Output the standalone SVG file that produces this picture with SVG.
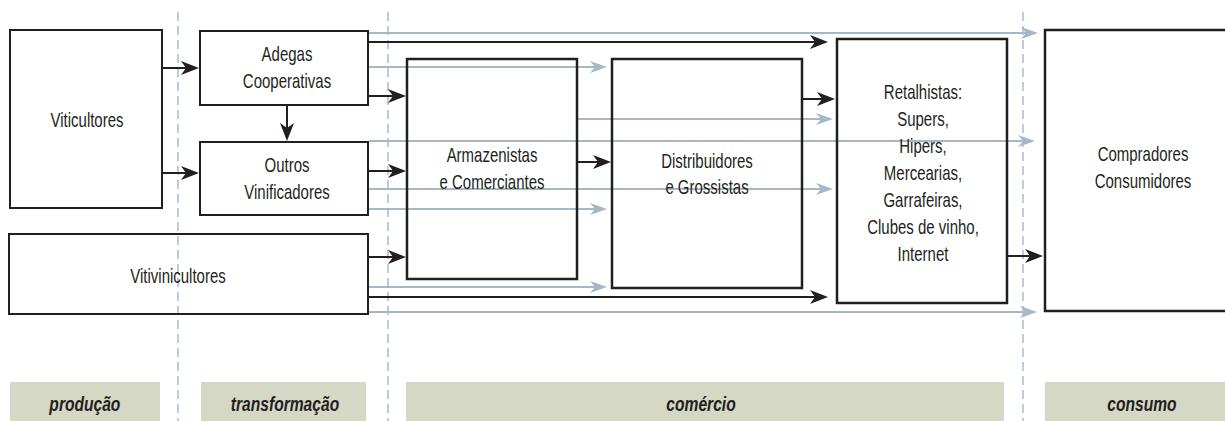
<svg xmlns="http://www.w3.org/2000/svg" width="1225" height="421" viewBox="0 0 1225 421">
<style>
.box{fill:none;stroke:#231f20;stroke-width:2}
.box2{fill:none;stroke:#231f20;stroke-width:2.5}
.t{font-family:'Liberation Sans',Arial,sans-serif;font-size:20px;fill:#231f20;text-anchor:middle;transform-box:fill-box;transform-origin:center;transform:scaleX(0.75)}
.band{fill:#d6d8c6}
.bt{font-family:'Liberation Sans',Arial,sans-serif;font-size:20px;font-weight:bold;font-style:italic;fill:#231f20;text-anchor:middle;transform-box:fill-box;transform-origin:center;transform:scaleX(0.78)}
.dash{stroke:#a3b7c6;stroke-width:1.4;stroke-dasharray:9 5;fill:none}
.k{stroke:#231f20;stroke-width:2;fill:none;marker-end:url(#ak)}
.b{stroke:#a5b8c8;stroke-width:2;fill:none;marker-end:url(#ab)}
</style>
<defs>
<marker id="ak" markerUnits="userSpaceOnUse" markerWidth="18" markerHeight="14" refX="6" refY="7" orient="auto" viewBox="0 0 18 14">
<path d="M0,0 L18,7 L0,14 L5,7 Z" fill="#231f20"/>
</marker>
<marker id="ab" markerUnits="userSpaceOnUse" markerWidth="17" markerHeight="12" refX="5" refY="6" orient="auto" viewBox="0 0 17 12">
<path d="M0,0 L17,6 L0,12 L5,6 Z" fill="#a5b8c8"/>
</marker>
</defs>
<rect width="1225" height="421" fill="#ffffff"/>
<g id="bands">
<rect class="band" x="10" y="382" width="150" height="39"/>
<rect class="band" x="201" y="382" width="165" height="39"/>
<rect class="band" x="406" y="382" width="598" height="39"/>
<rect class="band" x="1045" y="382" width="180" height="39"/>
<text class="bt" x="85" y="411">produção</text>
<text class="bt" x="285" y="411">transformação</text>
<text class="bt" x="701" y="411">comércio</text>
<text class="bt" x="1142" y="411">consumo</text>
</g>
<g id="phase-lines">
<line class="dash" x1="178" y1="12" x2="178" y2="421"/>
<line class="dash" x1="388" y1="12" x2="388" y2="421"/>
<line class="dash" x1="1023" y1="12" x2="1023" y2="421"/>
</g>
<g id="connectors">
<path class="b" d="M369 33 H1026"/>
<path class="b" d="M369 67 H595"/>
<path class="b" d="M578 119 H821"/>
<path class="b" d="M369 141 H1023"/>
<path class="b" d="M369 189 H821"/>
<path class="b" d="M369 209 H595"/>
<path class="b" d="M369 287 H595"/>
<path class="b" d="M369 312 H1025"/>
<path class="k" d="M163 68 H187"/>
<path class="k" d="M163 173 H187"/>
<path class="k" d="M287 106 V129"/>
<path class="k" d="M369 42 H816"/>
<path class="k" d="M369 96 H394"/>
<path class="k" d="M369 171 H394"/>
<path class="k" d="M369 257 H394"/>
<path class="k" d="M578 162 H599"/>
<path class="k" d="M803 99 H823"/>
<path class="k" d="M369 297 H816"/>
<path class="k" d="M1008 256 H1031"/>
</g>
<g id="viticultores">
<rect class="box" x="10" y="30" width="152" height="178"/>
<text class="t" x="87" y="127">Viticultores</text>
</g>
<g id="adegas">
<rect class="box" x="200" y="31" width="168" height="74"/>
<text class="t" x="287" y="61">Adegas</text>
<text class="t" x="287" y="88">Cooperativas</text>
</g>
<g id="outros">
<rect class="box" x="200" y="142" width="168" height="73"/>
<text class="t" x="287" y="172">Outros</text>
<text class="t" x="287" y="199">Vinificadores</text>
</g>
<g id="vitivinicultores">
<rect class="box" x="9" y="234" width="359" height="80"/>
<text class="t" x="178" y="283">Vitivinicultores</text>
</g>
<g id="armazenistas">
<rect class="box2" x="407" y="59" width="170" height="220"/>
<text class="t" x="492" y="162">Armazenistas</text>
<text class="t" x="492" y="189">e Comerciantes</text>
</g>
<g id="distribuidores">
<rect class="box2" x="612" y="59" width="190" height="229"/>
<text class="t" x="707" y="168">Distribuidores</text>
<text class="t" x="707" y="194">e Grossistas</text>
</g>
<g id="retalhistas">
<rect class="box2" x="837" y="39" width="170" height="264"/>
<text class="t" x="923" y="99">Retalhistas:</text>
<text class="t" x="923" y="126">Supers,</text>
<text class="t" x="923" y="153">Hipers,</text>
<text class="t" x="923" y="180">Mercearias,</text>
<text class="t" x="923" y="207">Garrafeiras,</text>
<text class="t" x="923" y="234">Clubes de vinho,</text>
<text class="t" x="923" y="261">Internet</text>
</g>
<g id="consumidores">
<rect class="box2" x="1045" y="30" width="195" height="281"/>
<text class="t" x="1143" y="161">Compradores</text>
<text class="t" x="1143" y="188">Consumidores</text>
</g>
</svg>
